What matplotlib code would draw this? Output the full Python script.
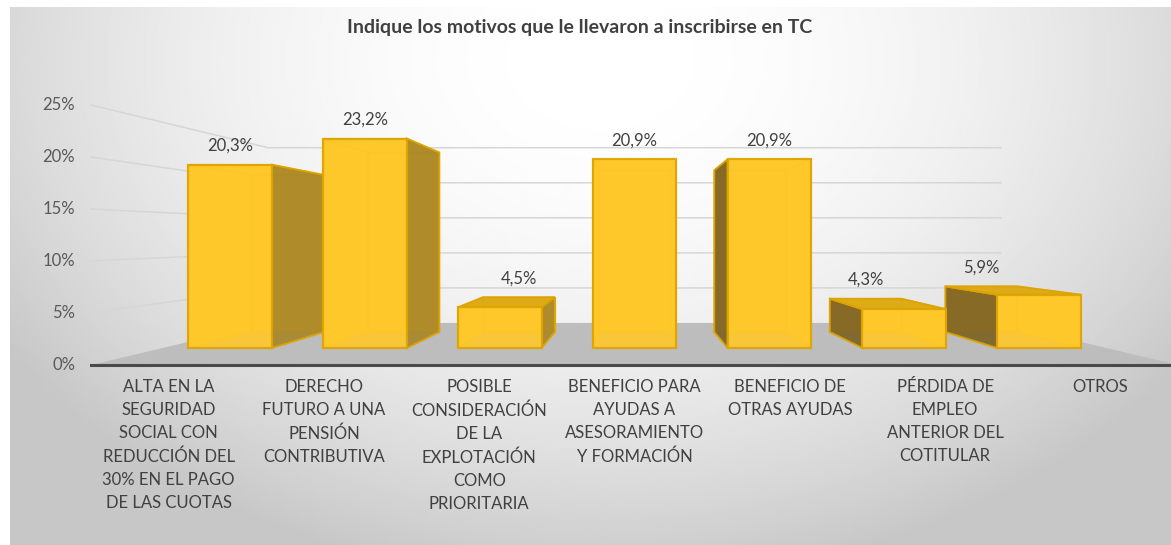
import numpy as np
import matplotlib.pyplot as plt
from matplotlib.patches import Polygon

plt.rcParams['font.family'] = ['Lato', 'DejaVu Sans']

titulo = "Indique los motivos que le llevaron a inscribirse en TC"
categorias = [
    "ALTA EN LA\nSEGURIDAD\nSOCIAL CON\nREDUCCIÓN DEL\n30% EN EL PAGO\nDE LAS CUOTAS",
    "DERECHO\nFUTURO A UNA\nPENSIÓN\nCONTRIBUTIVA",
    "POSIBLE\nCONSIDERACIÓN\nDE LA\nEXPLOTACIÓN\nCOMO\nPRIORITARIA",
    "BENEFICIO PARA\nAYUDAS A\nASESORAMIENTO\nY FORMACIÓN",
    "BENEFICIO DE\nOTRAS AYUDAS",
    "PÉRDIDA DE\nEMPLEO\nANTERIOR DEL\nCOTITULAR",
    "OTROS",
]
valores = [20.3, 23.2, 4.5, 20.9, 20.9, 4.3, 5.9]
ticks = [0, 5, 10, 15, 20, 25]

W, H = 1171, 545
fig = plt.figure(figsize=(W / 100, H / 100), dpi=100)
ax = fig.add_axes([0, 0, 1, 1])

# front plane in pixels: category axis starts at x0, 0% sits at y0
X0, DX, Y0, DY = 91, 155.3, 365, 10.4
ax.set_xlim(-X0 / DX, (W - X0) / DX)
ax.set_ylim(-(H - Y0) / DY, Y0 / DY)
ax.axis('off')

# simple perspective towards a vanishing point
VPU, VPV = 3.5, 12.4
S_AXIS, S_FRONT, S_BACK, S_WALL = 1.0, 0.868, 0.744, 0.674
HW = 0.31
n = len(categorias)


def proj(u, v, s):
    return VPU + s * (u - VPU), VPV + s * (v - VPV)


# background gradient
gy, gx = np.mgrid[7:H:2, 10:W:2]
r2 = ((gx - 600) / 680.0) ** 2 + ((gy - 60) / 500.0) ** 2
fondo = np.clip(1.0 - 0.2 * r2, 0.78, 1.0)
ax.imshow(fondo, cmap='gray', vmin=0, vmax=1, aspect='auto', origin='upper',
          extent=[(10 - X0) / DX, (W - X0) / DX, (Y0 - H) / DY, (Y0 - 7) / DY],
          interpolation='bilinear', zorder=0)

# gridlines on side and back walls
for t in ticks[1:]:
    a = proj(0, t, S_AXIS)
    b = proj(0, t, S_WALL)
    c = proj(n, t, S_WALL)
    ax.plot([a[0], b[0], c[0]], [a[1], b[1], c[1]], color='#d6d6d6', lw=1.1, zorder=1)

# floor
floor = [proj(0, 0, S_AXIS), proj(n, 0, S_AXIS), proj(n, 0, S_WALL), proj(0, 0, S_WALL)]
ax.add_patch(Polygon(floor, closed=True, fc='#bdbdbd', ec='none', zorder=2))
ax.plot([proj(0, 0, 1)[0], proj(n + 0.1, 0, 1)[0]], [0, 0], color='#4a4a4a', lw=2.2, zorder=3)

amarillo = '#FFC82A'
borde = '#DDA300'
borde_oculto = '#EDB512'
lado_der = '#A8862A'
lado_izq = '#7C6226'
tapa = '#DBA916'

orden = sorted(range(n), key=lambda i: -abs(i + 0.5 - VPU))
z = 10
for i in orden:
    c = i + 0.5
    v = valores[i]
    u0, u1 = c - HW, c + HW

    def cara(pts):
        return [proj(*p) for p in pts]

    back = cara([(u0, 0, S_BACK), (u1, 0, S_BACK), (u1, v, S_BACK), (u0, v, S_BACK)])
    front = cara([(u0, 0, S_FRONT), (u1, 0, S_FRONT), (u1, v, S_FRONT), (u0, v, S_FRONT)])
    left = cara([(u0, 0, S_FRONT), (u0, 0, S_BACK), (u0, v, S_BACK), (u0, v, S_FRONT)])
    right = cara([(u1, 0, S_FRONT), (u1, 0, S_BACK), (u1, v, S_BACK), (u1, v, S_FRONT)])
    top = cara([(u0, v, S_FRONT), (u1, v, S_FRONT), (u1, v, S_BACK), (u0, v, S_BACK)])

    ocultas = [back]
    visibles = []
    if c < VPU - 0.1:
        ocultas.append(left)
        visibles.append((right, lado_der))
    elif c > VPU + 0.1:
        ocultas.append(right)
        visibles.append((left, lado_izq))
    else:
        ocultas += [left, right]
    if v < VPV:
        visibles.append((top, tapa))
    else:
        ocultas.append(top)

    for f in ocultas:
        ax.add_patch(Polygon(f, closed=True, fc=amarillo, ec=borde_oculto, lw=0.9, zorder=z))
    z += 1
    for f, col in visibles:
        ax.add_patch(Polygon(f, closed=True, fc=col, ec=borde, lw=1.4, alpha=0.92, zorder=z))
        z += 1
    ax.add_patch(Polygon(front, closed=True, fc=amarillo, ec=borde, lw=1.6, alpha=0.9, zorder=z))
    z += 1

    # data label above the highest visible top edge
    s_lab = S_BACK if v < VPV else S_FRONT
    lx, ly = proj(c, v, s_lab)
    ax.annotate(f"{v:.1f}%".replace('.', ','), (lx, ly), xytext=(0, 13.5),
                textcoords='offset points', ha='center', va='center',
                fontsize=12, color='#404040', zorder=100)

# y tick labels on the front plane
for t in ticks:
    ax.annotate(f"{t}%", proj(0, t, S_AXIS), xytext=(-11.5, 0), textcoords='offset points',
                ha='right', va='center', fontsize=12, color='#595959', zorder=100)

# category labels
for i, lab in enumerate(categorias):
    ax.annotate(lab, proj(i + 0.5, 0, S_AXIS), xytext=(0, -10), textcoords='offset points',
                ha='center', va='top', fontsize=12, color='#404040',
                linespacing=1.55, zorder=100)

fig.text(580 / W, 1 - 28 / H, titulo, ha='center', va='center',
         fontsize=14, fontweight='bold', color='#404040')

fig.savefig('out.png', dpi=100)
